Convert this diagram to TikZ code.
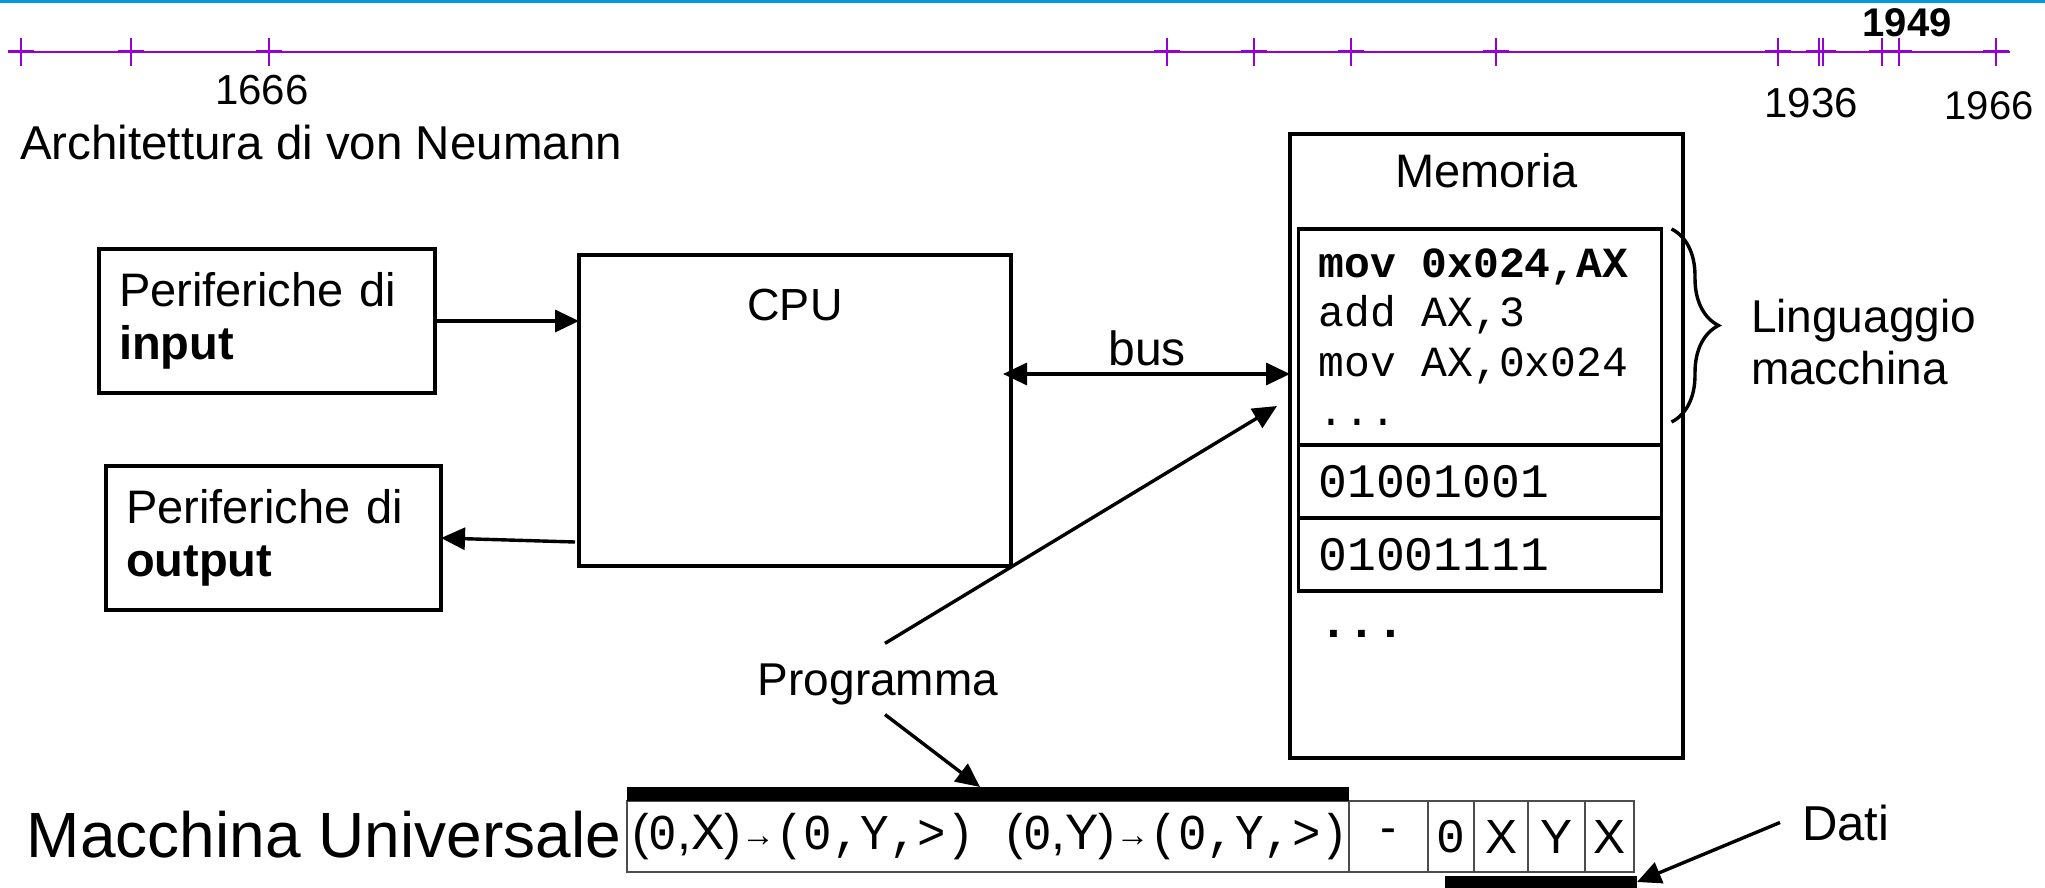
\documentclass[tikz,border=0pt]{standalone}
\usepackage{fontspec}
\usepackage{graphicx}
\setmainfont{Liberation Sans}
\setmonofont{Liberation Mono}
\usetikzlibrary{arrows.meta,positioning,decorations.pathreplacing}
\definecolor{lineablu}{RGB}{0,153,219}
\definecolor{viola}{RGB}{150,0,210}
\newcommand{\fsz}[2]{\fontsize{#1}{#2}\selectfont}
\newcommand{\spazio}{\hspace*{0.6em}}
\newcommand{\freccina}{\raisebox{3pt}{\fsz{34}{34}→}}
\newcommand{\mononastro}[1]{\scalebox{0.95}[1]{\texttt{#1}}}

\begin{document}
\begin{tikzpicture}[x=1pt,y=-1pt]
\tikzset{ >={Triangle[length=24pt,width=22pt]}, inner sep=0pt, outer sep=0pt,
  blocco/.style={draw, line width=3.4pt},
  freccia/.style={->, line width=3.4pt},
  cella/.style={draw=black!70, line width=1.2pt, minimum height=71pt, font=\fsz{48}{52}},
  barra/.style={fill=black, minimum height=14pt},
  graffa/.style={line width=3.4pt, decorate, decoration={brace, amplitude=47pt}},
}
\useasboundingbox (0,0) rectangle (2045,888);

%\draw [lightgray, dashed](0,0) grid[step=100] (2045,888);

%%% Linea del tempo

\draw[lineablu, line width=3pt] (0,1.5) -- (2045,1.5);
\draw[viola, line width=2.2pt] (9,52) -- (2010,52);
\foreach \x in {21,131,269,1167,1254,1351,1496,1778,1819,1823,1882,1899,1996} {
  \draw[viola, line width=2.2pt] (\x,38) -- (\x,66);
  \draw[viola, line width=3pt] (\x-13,52) -- (\x+13,52);
}
\node[anchor=base, font=\fsz{42}{48}] (a1666) at (262,105) {1666};
\node[anchor=base, font=\fsz{42}{48}] (a1936) at (1811,118) {1936};
\node[anchor=base, font=\fsz{40}{48}] (a1966) at (1989,120) {1966};
\node[anchor=base, font=\fsz{40}{48}\bfseries] (a1949) at (1907,37) {1949};

\node[anchor=base west, font=\fsz{47.5}{52}] (titolo) at (20,159) {Architettura di von Neumann};

%%% Blocchi

% periferiche
\node[blocco, minimum width=336pt, minimum height=144pt, text width=296pt, inner xsep=20pt,
      align=left, font=\fsz{47}{53}] (input) at (267,321) {Periferiche di\\\textbf{input}};
\node[blocco, minimum width=335pt, minimum height=144pt, text width=295pt, inner xsep=20pt,
      align=left, font=\fsz{47}{53}] (output) at (273.5,538) {Periferiche di\\\textbf{output}};

% CPU
\node[blocco, minimum width=432pt, minimum height=311pt] (cpu) at (795,410.5) { };
\node[anchor=base, font=\fsz{45}{50}] (cputxt) at ([yshift=-65pt]cpu.north) {CPU};

% Memoria
\node[blocco, minimum width=393pt, minimum height=624pt] (mem) at (1486.5,446) { };
\node[anchor=base, font=\fsz{47}{52}] (memtxt) at ([yshift=-53pt]mem.north) {Memoria};
\node[blocco, minimum width=363pt, minimum height=216pt, text width=323pt, inner xsep=20pt,
      align=left, font=\ttfamily\fsz{43}{49.5}] (codice) at (1480,337)
      {\textbf{mov\spazio0x024,AX}\\add\spazio AX,3\\mov\spazio AX,0x024\\...};
\node[blocco, minimum width=363pt, minimum height=73pt, text width=323pt, inner xsep=20pt,
      align=left, font=\ttfamily\fsz{48}{52}, below=0pt of codice] (riga1) {01001001};
\node[blocco, minimum width=363pt, minimum height=73pt, text width=323pt, inner xsep=20pt,
      align=left, font=\ttfamily\fsz{48}{52}, below=0pt of riga1] (riga2) {01001111};
\node[anchor=base west, font=\ttfamily\bfseries\fsz{48}{52}] (puntini) at (1319,637) {...};

% linguaggio macchina
\draw[graffa] ([xshift=10pt]codice.north east) -- ([shift={(10pt,23pt)}]codice.south east);
\node[anchor=north west, align=left, font=\fsz{46}{52}] (lingua) at (1751,299) {Linguaggio\\macchina};

% Macchina Universale (nastro)
\node[anchor=base west, font=\fsz{64}{70}] (macchina) at (27,857) {Macchina Universale};
\node[cella, minimum width=722pt, text width=712pt, inner xsep=5pt, align=left, font=\fsz{50}{52}] (nastro) at (988,836.5)
  {\mbox{(\mononastro{0},X)\freccina\mononastro{(0,Y,>)}\hspace{32pt}%
   (\mononastro{0},Y)\freccina\mononastro{(0,Y,>)}}};
\node[cella, minimum width=79pt, right=0pt of nastro] (c1) {-};
\node[cella, minimum width=46pt, right=0pt of c1] (c2) {\texttt{0}};
\node[cella, minimum width=54pt, right=0pt of c2] (c3) {X};
\node[cella, minimum width=57pt, right=0pt of c3] (c4) {Y};
\node[cella, minimum width=49pt, right=0pt of c4] (c5) {X};
\node[barra, minimum width=722pt, above=0pt of nastro] (progbar) { };
\node[barra, minimum width=192pt, minimum height=16pt, anchor=north west] (databar)
  at ([shift={(17pt,-4pt)}]c2.south west) { };

%%% Linee

% input -> CPU
\draw[freccia] (input.east) -- (cpu.west |- input.east);

% CPU -> output
\coordinate (outsrc) at (cpu.west |- output.east);
\draw[freccia] ([shift={(-4pt,-4pt)}]outsrc) -- (output.east);

% bus CPU <-> Memoria
\coordinate (busL) at (1003,374);
\draw[<->, line width=3.4pt] (busL) -- (mem.west |- busL);
\node[anchor=base, font=\fsz{48}{52}] (bus) at (1147,365) {bus};

% Programma
\node[anchor=base, font=\fsz{46}{52}] (prog) at (878,695) {Programma};
\coordinate (progtip) at (1277,406);
\draw[freccia] ([shift={(7pt,20pt)}]prog.north) -- (progtip);
\draw[freccia] ([shift={(7pt,-10pt)}]prog.south) -- ([xshift=-8pt]progbar.north);

% Dati
\node[anchor=base west, font=\fsz{49}{52}] (dati) at (1802,840) {Dati};
\draw[freccia] ([xshift=-22pt]dati.west) -- ([yshift=-6pt]databar.north east);

\end{tikzpicture}
\end{document}
